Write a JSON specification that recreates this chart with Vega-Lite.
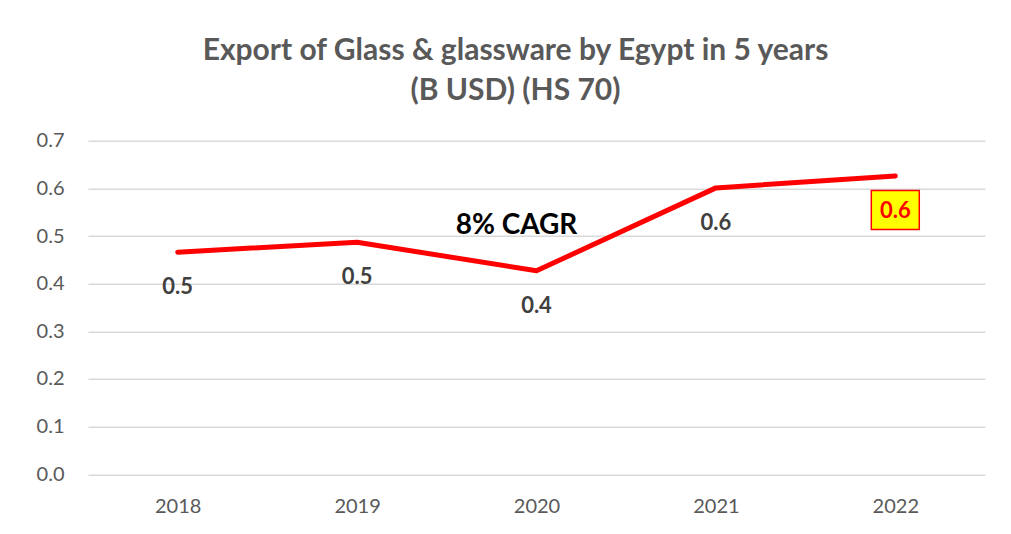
{
  "$schema": "https://vega.github.io/schema/vega-lite/v6.json",
  "width": 897,
  "height": 333.6,
  "autosize": {"type": "none"},
  "padding": {"left": 88, "top": 140.7, "right": 26, "bottom": 59.7},
  "background": "white",
  "config": {
    "font": "Lato",
    "view": {"stroke": null}
  },
  "title": {
    "text": ["Export of Glass & glassware by Egypt in 5 years", "(B USD) (HS 70)"],
    "font": "Lato",
    "fontSize": 30,
    "fontWeight": "bold",
    "color": "#595959",
    "anchor": "middle",
    "frame": "group",
    "dx": -21,
    "lineHeight": 40,
    "offset": 25
  },
  "datasets": {
    "exports": [
      {"year": "2018", "value": 0.466},
      {"year": "2019", "value": 0.487},
      {"year": "2020", "value": 0.427},
      {"year": "2021", "value": 0.601},
      {"year": "2022", "value": 0.626}
    ],
    "note": [
      {"year": "2020", "value": 0.52, "label": "8% CAGR"}
    ]
  },
  "data": {"name": "exports"},
  "encoding": {
    "x": {
      "field": "year",
      "type": "nominal",
      "sort": null,
      "scale": {"paddingInner": 0, "paddingOuter": 0},
      "axis": {
        "title": null,
        "labelAngle": 0,
        "labelFontSize": 20,
        "labelColor": "#595959",
        "labelPadding": 22,
        "domain": false,
        "ticks": false,
        "grid": false
      }
    },
    "y": {
      "field": "value",
      "type": "quantitative",
      "scale": {"domain": [0, 0.7], "nice": false},
      "axis": {
        "title": null,
        "values": [0, 0.1, 0.2, 0.3, 0.4, 0.5, 0.6, 0.7],
        "format": ".1f",
        "labelFontSize": 20,
        "labelColor": "#595959",
        "labelPadding": 24,
        "domain": false,
        "ticks": false,
        "gridColor": "#d9d9d9",
        "gridWidth": 1.5
      }
    }
  },
  "layer": [
    {
      "mark": {"type": "line", "color": "#ff0000", "strokeWidth": 5, "strokeCap": "round", "strokeJoin": "round"}
    },
    {
      "transform": [{"filter": "datum.year == '2022'"}],
      "mark": {
        "type": "point",
        "shape": "M-1.23,-1H1.23V1H-1.23Z",
        "size": 1521,
        "filled": true,
        "fill": "#ffff00",
        "stroke": "#ff0000",
        "strokeWidth": 1.5,
        "opacity": 1,
        "yOffset": 34
      }
    },
    {
      "mark": {"type": "text", "fontSize": 22, "fontWeight": "bold", "dy": 35},
      "encoding": {
        "text": {"field": "value", "type": "quantitative", "format": ".1f"},
        "color": {
          "condition": {"test": "datum.year == '2022'", "value": "#ff0000"},
          "value": "#404040"
        }
      }
    },
    {
      "data": {"name": "note"},
      "mark": {"type": "text", "fontSize": 28, "fontWeight": "bold", "color": "#000000", "dx": -20},
      "encoding": {
        "text": {"field": "label"}
      }
    }
  ]
}
